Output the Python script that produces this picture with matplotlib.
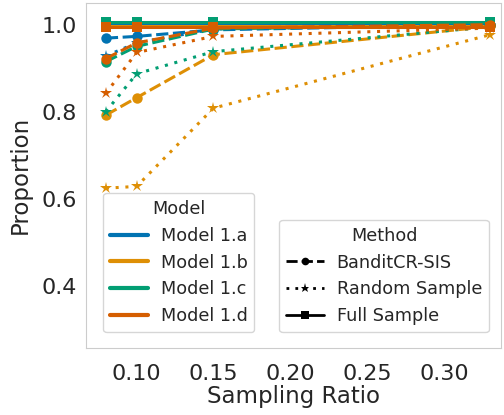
import numpy as np
import matplotlib
matplotlib.use("Agg")
import matplotlib.pyplot as plt
from matplotlib.lines import Line2D
import seaborn as sns

# =========================================================
# Data
# =========================================================
ratios = [0.08, 0.10, 0.15, 0.33]
models = ["Model 1.a", "Model 1.b", "Model 1.c", "Model 1.d"]
methods = ["BanditCR-SIS", "Random Sample", "Full Sample"]

bandit_a = [0.969, 0.973, 0.988, 1.000]
bandit_b = [0.792, 0.832, 0.931, 0.996]
bandit_c = [0.915, 0.950, 0.990, 1.000]
bandit_d = [0.922, 0.958, 0.992, 1.000]

random_a = [0.928, 0.958, 0.990, 1.000]
random_b = [0.624, 0.628, 0.808, 0.977]
random_c = [0.800, 0.887, 0.938, 0.995]
random_d = [0.842, 0.936, 0.973, 0.992]

full_a = [1.000, 1.000, 1.000, 1.000]
full_b = [0.998, 0.998, 0.998, 0.998]
full_c = [1.007, 1.007, 1.007, 1.007]
full_d = [0.995, 0.995, 0.995, 0.995]

values = {
    "Model 1.a": [bandit_a, random_a, full_a],
    "Model 1.b": [bandit_b, random_b, full_b],
    "Model 1.c": [bandit_c, random_c, full_c],
    "Model 1.d": [bandit_d, random_d, full_d],
}

# =========================================================
# Style
# =========================================================
sns.set_style("whitegrid")
colors = sns.color_palette("colorblind", 4)
styles = {
    "BanditCR-SIS": dict(marker="o", dashes=(4, 1.5)),
    "Random Sample": dict(marker="*", dashes=(1, 2.2)),
    "Full Sample": dict(marker="s", dashes=()),
}

fig = plt.figure(figsize=(5.04, 4.15), dpi=100)
ax = fig.add_axes([0.171, 0.162, 0.823, 0.831])

for model, col in zip(models, colors):
    for method, ys in zip(methods, values[model]):
        st = styles[method]
        ln, = ax.plot(ratios, ys, color=col, lw=2.2,
                      marker=st["marker"], ms=9 if st["marker"] == "*" else 7.5,
                      markeredgewidth=0)
        if st["dashes"]:
            ln.set_dashes(st["dashes"])

ax.set_xlim(0.0672, 0.337)
ax.set_ylim(0.257, 1.05)
ax.set_xticks([0.10, 0.15, 0.20, 0.25, 0.30])
ax.set_yticks([0.4, 0.6, 0.8, 1.0])
ax.tick_params(labelsize=16, colors=".15")
ax.tick_params(axis="x", pad=8)
ax.grid(False)
ax.set_xlabel("Sampling Ratio", fontsize=16.5, color=".15", labelpad=1)
ax.set_ylabel("Proportion", fontsize=16.5, color=".15", labelpad=7)

# =========================================================
# Legends
# =========================================================
leg_kw = dict(fontsize=12.7, title_fontsize=12.7, borderaxespad=0,
              handlelength=2.15, handletextpad=0.7, labelspacing=0.5)

model_handles = [Line2D([], [], color=c, lw=3) for c in colors]
leg1 = ax.legend(model_handles, models, title="Model", loc="lower left",
                 bbox_to_anchor=(0.041, 0.045), **leg_kw)
ax.add_artist(leg1)

method_handles = []
for method in methods:
    st = styles[method]
    h = Line2D([], [], color="black", lw=2, marker=st["marker"],
               ms=5.5 if st["marker"] != "*" else 6.5, markeredgewidth=0)
    if st["dashes"]:
        h.set_dashes(st["dashes"])
    method_handles.append(h)
ax.legend(method_handles, methods, title="Method", loc="lower right",
          bbox_to_anchor=(0.971, 0.045), **leg_kw)

plt.savefig("out.png", dpi=100)
